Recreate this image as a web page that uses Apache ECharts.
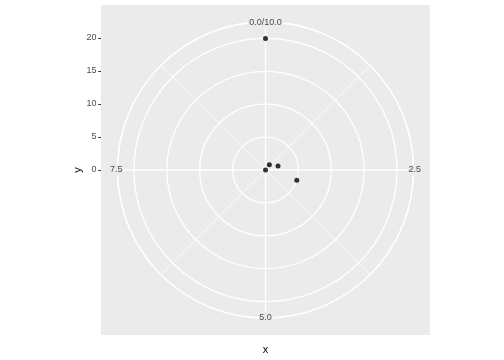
<!DOCTYPE html>
<html>
<head>
<meta charset="utf-8">
<script src="https://cdn.jsdelivr.net/npm/echarts@6/dist/echarts.min.js"></script>
<style>html,body{margin:0;padding:0;background:#fff}#c{width:504px;height:360px}</style>
</head>
<body>
<div id="c"></div>
<script>
// data
const xValues = [0, 1, 2, 3, 10];
const yValues = [0, 1, 2, 5, 20];
const thetaBreaks = [0, 2.5, 5, 7.5];
const rBreaks = [0, 5, 10, 15, 20];
const xTitle = 'x';
const yTitle = 'y';

const font = 'Liberation Sans, Arial, Helvetica, sans-serif';
const chart = echarts.init(document.getElementById('c'), null, {renderer: 'canvas'});
const points = xValues.map((x, i) => [yValues[i], x]);
const thetaFmt = function (v) {
  if (v === 0) return thetaBreaks[0].toFixed(1) + '/10.0';
  if (v === 10) return '';
  return v.toFixed(1);
};

chart.setOption({
  animation: false,
  backgroundColor: '#fff',
  grid: {
    left: 101, top: 5, width: 329, height: 330,
    show: true, backgroundColor: '#EBEBEB', borderWidth: 0, z: -1
  },
  xAxis: {
    type: 'value', min: 0, max: 10,
    name: xTitle, nameLocation: 'middle', nameGap: 9, nameMoveOverlap: false,
    nameTextStyle: {color: '#000', fontSize: 11, fontFamily: font},
    axisLine: {show: false}, axisTick: {show: false}, axisLabel: {show: false},
    splitLine: {show: false}
  },
  yAxis: {
    type: 'value', min: -25, max: 25, interval: 5,
    name: yTitle, nameLocation: 'middle', nameGap: 18, nameMoveOverlap: false,
    nameTextStyle: {color: '#000', fontSize: 11, fontFamily: font},
    axisLine: {show: false},
    axisTick: {show: true, length: 2.8, customValues: rBreaks, lineStyle: {color: '#333', width: 1}},
    axisLabel: {show: true, customValues: rBreaks, margin: 4.5, color: '#4D4D4D', fontSize: 9, fontFamily: font},
    splitLine: {show: false}
  },
  polar: [
    {center: [265.5, 170], radius: 148},
    {center: [265.5, 170], radius: 148}
  ],
  radiusAxis: [{
    polarIndex: 0, type: 'value', min: 0, max: 22.5, interval: 5, z: 1,
    axisLine: {show: false}, axisTick: {show: false}, axisLabel: {show: false},
    splitLine: {show: true, lineStyle: {color: '#fff', width: 1.3}}
  }, {
    polarIndex: 1, type: 'value', min: 0, max: 22.5, show: false,
    axisLine: {show: false}, axisTick: {show: false}, axisLabel: {show: false},
    splitLine: {show: false}
  }],
  angleAxis: [{
    polarIndex: 0, type: 'value', min: 0, max: 10, interval: 2.5, startAngle: 90, clockwise: true, z: 2,
    axisLine: {show: true, lineStyle: {color: '#fff', width: 1.3}},
    axisTick: {show: false},
    minorTick: {show: false, splitNumber: 2},
    minorSplitLine: {show: true, lineStyle: {color: '#fff', width: 0.7}},
    splitLine: {show: true, lineStyle: {color: '#fff', width: 1.3}},
    axisLabel: {show: false}
  }, {
    polarIndex: 1, type: 'value', min: 0, max: 10, interval: 2.5, startAngle: 90, clockwise: true, z: 5,
    axisLine: {show: false}, axisTick: {show: false},
    splitLine: {show: false}, minorSplitLine: {show: false},
    axisLabel: {
      show: true, margin: -6,
      color: '#4D4D4D', fontSize: 9, fontFamily: font,
      backgroundColor: '#EBEBEB', padding: [1, 1],
      formatter: thetaFmt
    }
  }],
  series: [{
    type: 'scatter', coordinateSystem: 'polar', polarIndex: 0,
    data: points, symbolSize: 5,
    itemStyle: {color: '#000'}, z: 10
  }]
});
</script>
</body>
</html>
